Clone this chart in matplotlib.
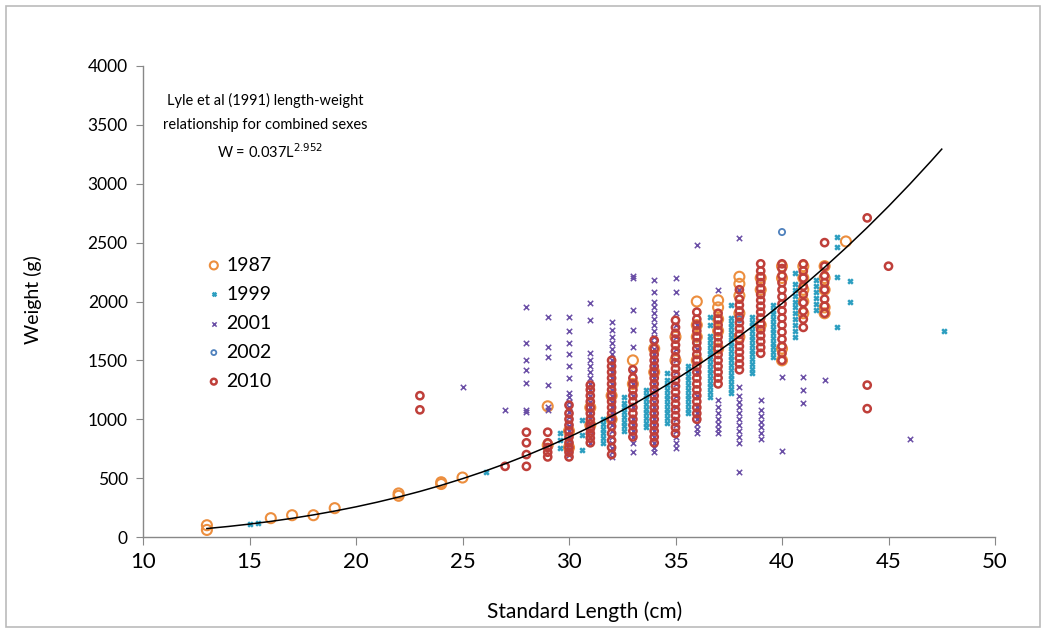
import matplotlib
matplotlib.use("Agg")
import matplotlib.pyplot as plt
from matplotlib.patches import Rectangle

plt.rcParams['font.family'] = ['Lato', 'DejaVu Sans']

# ---------------- data ----------------
years = ["1987", "1999", "2001", "2002", "2010"]

cols_1987 = [13, 16, 17, 18, 19, 22, 24, 25, 29, 30, 31, 32, 33, 34, 35, 36, 37, 38, 39, 40, 41, 42, 43]
wts_1987 = [[60, 100], [160], [185], [185], [245], [350, 370], [450, 465], [505],
            [780, 1110], [760, 900], [950, 1100], [1000, 1200], [1300, 1500], [1400, 1600],
            [1500, 1700], [1500, 1700, 1800, 2000], [1600, 1750, 1850, 1950, 2010],
            [1700, 1900, 2050, 2150, 2210], [1800, 2100, 2200], [1500, 1600, 2200, 2300],
            [1900, 2000, 2100, 2200, 2300], [1900, 1950, 2100, 2200, 2300], [2510]]

cols_1999 = [15.0, 15.4, 26.1, 29.6, 30.6, 31.6, 32.6, 33.6, 34.6, 35.6, 36.6, 37.6, 38.6,
             39.6, 40.6, 41.6, 42.6, 43.2, 47.6]
wts_1999 = [[108], [115], [552], [760, 820, 880], [740, 870, 990],
            [800, 840, 880, 920, 960, 1000],
            [900, 940, 980, 1020, 1060, 1100, 1140, 1190],
            [930, 970, 1010, 1050, 1090, 1130, 1170, 1210, 1250],
            [970, 1010, 1050, 1090, 1130, 1170, 1210, 1250, 1290, 1330, 1390],
            [1050, 1090, 1130, 1170, 1210, 1250, 1290, 1330, 1370, 1410, 1450],
            [1190, 1230, 1270, 1310, 1350, 1390, 1430, 1470, 1510, 1550, 1590, 1630, 1670, 1710, 1800, 1870],
            [1220, 1260, 1300, 1340, 1380, 1420, 1460, 1500, 1540, 1580, 1620, 1660, 1700, 1740, 1780, 1820, 1860, 1970],
            [1390, 1430, 1470, 1510, 1550, 1590, 1630, 1670, 1710, 1750, 1790, 1830, 1870],
            [1530, 1570, 1610, 1650, 1690, 1730, 1770, 1810, 1850, 1890, 1930, 1970],
            [1700, 1750, 1800, 1850, 1900, 1950, 2000, 2050, 2100, 2150, 2240],
            [1930, 1980, 2030, 2080, 2130, 2180],
            [1780, 2210, 2460, 2550], [2000, 2170], [1750]]

cols_2001 = [25, 27, 28, 29, 30, 31, 32, 33, 34, 35, 36, 37, 38, 39, 40, 41, 42, 46]
wts_2001 = [[1270], [1080],
            [1060, 1080, 1310, 1420, 1500, 1650, 1950],
            [1080, 1100, 1290, 1530, 1610, 1870],
            [700, 740, 780, 820, 860, 900, 940, 980, 1020, 1060, 1100, 1150, 1190, 1220, 1350, 1450, 1550, 1650, 1750, 1870],
            [800, 850, 900, 950, 1000, 1050, 1100, 1150, 1200, 1250, 1300, 1350, 1400, 1450, 1500, 1560, 1840, 1990],
            [680, 720, 760, 800, 850, 900, 950, 1000, 1050, 1100, 1150, 1200, 1250, 1300, 1350, 1400, 1450, 1500, 1550, 1600, 1650, 1700, 1760, 1830],
            [720, 800, 850, 900, 950, 1000, 1100, 1200, 1300, 1400, 1610, 1760, 1930, 2200, 2220],
            [720, 760, 800, 850, 900, 950, 1000, 1050, 1100, 1150, 1200, 1250, 1300, 1350, 1400, 1450, 1500, 1550, 1600, 1650, 1700, 1750, 1800, 1850, 1900, 1950, 2000, 2080, 2180],
            [760, 800, 850, 900, 950, 1000, 1100, 1200, 1300, 1400, 1500, 1600, 1700, 1800, 1900, 2080, 2200],
            [880, 920, 960, 1000, 1050, 1100, 1200, 1400, 1600, 1800, 2480],
            [880, 920, 960, 1000, 1050, 1100, 1160, 2100],
            [550, 800, 850, 900, 950, 1000, 1050, 1100, 1150, 1200, 1270, 2100, 2540],
            [830, 880, 930, 980, 1030, 1080, 1160],
            [730, 1360], [1140, 1250, 1360], [1330], [830]]

cols_2002 = [36, 38, 40]
wts_2002 = [[1650], [1850], [2590]]

cols_2010 = [23, 27, 28, 29, 30, 31, 32, 33, 34, 35, 36, 37, 38, 39, 40, 41, 42, 44, 45]
wts_2010 = [[1080, 1200], [600], [600, 700, 800, 890], [680, 720, 760, 800, 890],
            [680, 720, 760, 800, 850, 900, 950, 1000, 1050, 1120],
            [800, 840, 880, 920, 960, 1000, 1050, 1100, 1150, 1200, 1250, 1290],
            [700, 760, 820, 880, 940, 1000, 1050, 1100, 1150, 1200, 1250, 1300, 1350, 1400, 1450, 1500],
            [850, 900, 950, 1000, 1050, 1100, 1150, 1200, 1250, 1300, 1350, 1420],
            [800, 850, 900, 950, 1000, 1050, 1100, 1150, 1200, 1250, 1300, 1350, 1400, 1450, 1500, 1550, 1600, 1670],
            [880, 930, 980, 1030, 1080, 1130, 1180, 1230, 1280, 1330, 1380, 1430, 1480, 1530, 1580, 1630, 1680, 1730, 1780, 1840],
            [1000, 1050, 1100, 1150, 1200, 1250, 1300, 1350, 1400, 1450, 1500, 1550, 1600, 1650, 1700, 1750, 1800, 1850, 1910],
            [1300, 1350, 1400, 1450, 1500, 1550, 1600, 1650, 1700, 1750, 1800, 1850, 1900],
            [1420, 1470, 1520, 1570, 1620, 1670, 1720, 1770, 1820, 1870, 1920, 1970, 2020, 2100],
            [1560, 1610, 1660, 1710, 1760, 1810, 1860, 1910, 1960, 2010, 2060, 2110, 2160, 2210, 2260, 2320],
            [1500, 1560, 1620, 1680, 1740, 1800, 1860, 1920, 1980, 2040, 2100, 2160, 2220, 2280, 2320],
            [1780, 1850, 1920, 1990, 2060, 2130, 2200, 2260, 2320],
            [1900, 1960, 2020, 2100, 2160, 2220, 2300, 2500],
            [1090, 1290, 2710], [2300]]

# Lyle et al (1991) curve W = 0.037 L^2.952, tabulated
curve_len = [13, 14, 15, 16, 17, 18, 19, 20, 21, 22, 23, 24, 25, 26, 27, 28, 29, 30,
             31, 32, 33, 34, 35, 36, 37, 38, 39, 40, 41, 42, 43, 44, 45, 46, 47, 47.5]
curve_wt = [71.9, 89.4, 109.6, 132.6, 158.6, 187.7, 220.3, 256.3, 296.0, 339.5, 387.1,
            438.9, 495.3, 556.1, 621.6, 692.1, 767.6, 848.4, 934.7, 1026.5, 1124.1,
            1227.6, 1337.3, 1453.2, 1575.6, 1704.8, 1840.5, 1983.5, 2133.4, 2290.7,
            2455.6, 2627.9, 2808.2, 2996.4, 3192.7, 3294.0]

x_ticks = [10, 15, 20, 25, 30, 35, 40, 45, 50]
y_ticks = [0, 500, 1000, 1500, 2000, 2500, 3000, 3500, 4000]


def flatten(cols, wts):
    xs, ys = [], []
    for c, ws in zip(cols, wts):
        for w in ws:
            xs.append(c)
            ys.append(w)
    return xs, ys


W, H = 1047, 632
fig = plt.figure(figsize=(W / 100, H / 100), dpi=100)
ax = fig.add_axes([143 / W, 1 - 537 / H, (995 - 143) / W, (537 - 66) / H])

# figure border
fig.patches.append(Rectangle((6 / W, 5 / H), 1034 / W, 621 / H,
                             transform=fig.transFigure, fill=False,
                             edgecolor="#BBBBBB", linewidth=1.2))

c1987 = "#EC8E3E"
c1999 = "#2C9EC0"
c2001 = "#6B4FA6"
c2002 = "#4F81BD"
c2010 = "#BF3F3A"

x, y = flatten(cols_1987, wts_1987)
ax.scatter(x, y, s=52, facecolors="none", edgecolors=c1987, linewidths=1.5,
           label="1987", zorder=2)
x, y = flatten(cols_1999, wts_1999)
ax.scatter(x, y, s=11, marker="x", color=c1999, linewidths=1.8,
           label="1999", zorder=3)
x, y = flatten(cols_2001, wts_2001)
ax.scatter(x, y, s=15, marker="x", color=c2001, linewidths=1.1,
           label="2001", zorder=4)
x, y = flatten(cols_2002, wts_2002)
ax.scatter(x, y, s=20, facecolors="none", edgecolors=c2002, linewidths=1.3,
           label="2002", zorder=5)
x, y = flatten(cols_2010, wts_2010)
ax.scatter(x, y, s=27, facecolors="none", edgecolors=c2010, linewidths=1.8,
           label="2010", zorder=6)

ax.plot(curve_len, curve_wt, color="black", linewidth=1.1, zorder=7)

ax.set_xlim(10, 50)
ax.set_ylim(0, 4000)
ax.set_xticks(x_ticks)
ax.set_yticks(y_ticks)
ax.tick_params(axis="x", labelsize=16, length=6, color="#888888", pad=5)
ax.tick_params(axis="y", labelsize=12.5, length=5, color="#888888", pad=6)
for s in ["top", "right"]:
    ax.spines[s].set_visible(False)
for s in ["left", "bottom"]:
    ax.spines[s].set_color("#888888")
    ax.spines[s].set_linewidth(1.0)

fig.text(585 / W, 1 - 612 / H, "Standard Length (cm)", fontsize=15,
         ha="center", va="center")
fig.text(33 / W, 1 - 300 / H, "Weight (g)", fontsize=14, rotation=90,
         ha="center", va="center")

fig.text(265 / W, 1 - 100 / H, "Lyle et al (1991) length-weight", fontsize=10.5,
         ha="center", va="center")
fig.text(265 / W, 1 - 125 / H, "relationship for combined sexes", fontsize=10.5,
         ha="center", va="center")
fig.text(270 / W, 1 - 152 / H, r"W = 0.037L$^{2.952}$", fontsize=10.5,
         ha="center", va="center")

leg = ax.legend(loc="upper left", bbox_to_anchor=(0.066, 0.612), frameon=False,
                fontsize=14, handletextpad=0.3, labelspacing=0.62,
                handlelength=0.7, markerscale=0.8, borderaxespad=0)

fig.savefig("out.png", dpi=100)
